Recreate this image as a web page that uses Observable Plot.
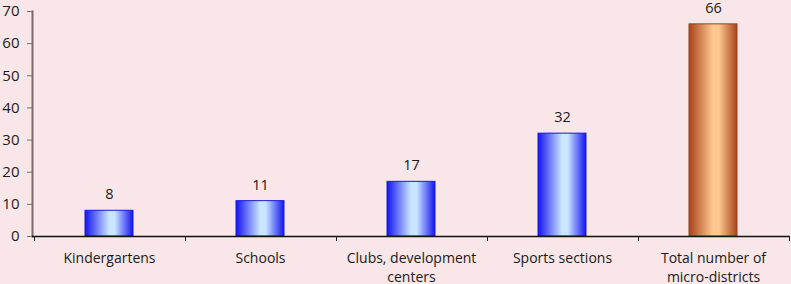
<!DOCTYPE html>
<html>
<head>
<meta charset="utf-8">
<script src="https://cdn.jsdelivr.net/npm/d3@7"></script>
<script src="https://cdn.jsdelivr.net/npm/@observablehq/plot@0.6"></script>
<style>
  html, body { margin: 0; padding: 0; background: #f8e6e8; }
  #chart svg { display: block; }
</style>
</head>
<body>
<div id="chart"></div>
<script>
const categories = ["Kindergartens", "Schools", "Clubs, development\ncenters", "Sports sections", "Total number of\nmicro-districts"];
const values = [8, 11, 17, 32, 66];
const yTicks = [0, 10, 20, 30, 40, 50, 60, 70];
const highlighted = "Total number of\nmicro-districts";

const data = categories.map((c, i) => ({category: c, value: values[i]}));

const boundaryTicks = (index, scales, values, dimensions) => {
  const x = scales.x;
  const step = x.step();
  const y0 = scales.y(0);
  const g = d3.create("svg:g").attr("stroke", "#222").attr("stroke-width", 1);
  const xs = [x(categories[0]) - (step - x.bandwidth()) / 2];
  for (const c of categories) xs.push(x(c) + x.bandwidth() + (step - x.bandwidth()) / 2);
  for (const xv of xs) {
    g.append("line").attr("x1", Math.round(xv) + 0.5).attr("x2", Math.round(xv) + 0.5)
      .attr("y1", y0).attr("y2", y0 + 5);
  }
  return g.node();
};

const svg = Plot.plot({
  width: 791,
  height: 284,
  marginLeft: 32,
  marginRight: 1,
  marginTop: 11,
  marginBottom: 48,
  style: {background: "#f8e6e8", fontFamily: "Open Sans", fontSize: "14px", color: "#1a1a1a", overflow: "visible"},
  x: {domain: categories, paddingInner: 0.68, paddingOuter: 0.34, label: null},
  y: {domain: [0, 70], label: null},
  marks: [
    Plot.axisY({ticks: yTicks, tickSize: 5, tickPadding: 8, stroke: "#7a6a6d", fill: "#1a1a1a", fontSize: 15}),
    Plot.frame({anchor: "left", stroke: "#7a6a6d", strokeWidth: 2}),
    Plot.axisX({tickSize: 0, tickPadding: 13, lineHeight: 1.36, fontSize: 14, fill: "#1a1a1a"}),
    Plot.barY(data.filter(d => d.category !== highlighted), {x: "category", y: "value", fill: "url(#blueGrad)", stroke: "#1a1ad8", strokeWidth: 1}),
    Plot.barY(data.filter(d => d.category === highlighted), {x: "category", y: "value", fill: "url(#brownGrad)", stroke: "#9a4020", strokeWidth: 1}),
    Plot.ruleY([0], {stroke: "#111", strokeWidth: 1.5}),
    boundaryTicks,
    Plot.text(data, {x: "category", y: "value", text: d => String(d.value), dy: -16, fontSize: 14.5, fill: "#1a1a1a"})
  ]
});

const defs = d3.select(svg).insert("defs", ":first-child");
function grad(id, edge, mid) {
  const g = defs.append("linearGradient").attr("id", id).attr("x1", 0).attr("x2", 1).attr("y1", 0).attr("y2", 0);
  g.append("stop").attr("offset", "0%").attr("stop-color", edge);
  g.append("stop").attr("offset", "50%").attr("stop-color", mid);
  g.append("stop").attr("offset", "62%").attr("stop-color", mid);
  g.append("stop").attr("offset", "100%").attr("stop-color", edge);
}
grad("blueGrad", "#1414f0", "#c8e6ff");
grad("brownGrad", "#a8441c", "#ffc890");

document.getElementById("chart").appendChild(svg);
</script>
</body>
</html>
